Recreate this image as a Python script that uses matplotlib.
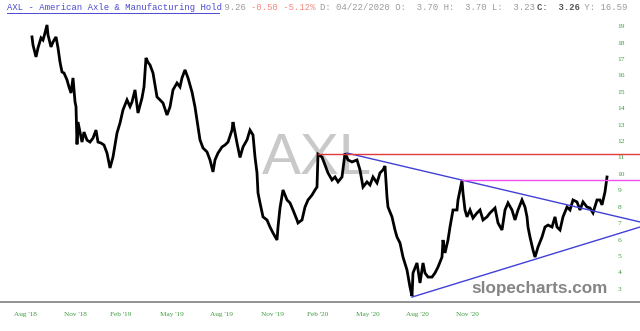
import matplotlib
matplotlib.use("Agg")
import matplotlib.pyplot as plt
from matplotlib.lines import Line2D

# bar number (trading-day index) and price
bars = [7, 8, 11, 13, 16, 18, 20, 22, 23, 26, 28, 31, 33, 35, 37, 39, 42, 44, 46, 48,
        50, 51, 52, 53, 55, 57, 59, 62, 65, 68, 71, 73, 76, 79, 82, 85, 88, 92, 95, 98,
        102, 105, 107, 110, 113, 117, 119, 121, 123, 125, 128, 132, 135, 138, 142, 145, 148, 152, 155, 157,
        160, 163, 167, 170, 173, 175, 178, 182, 185, 188, 190, 193, 197, 200, 203, 207, 208, 212, 215, 218,
        222, 225, 228, 230, 232, 233, 235, 238, 242, 245, 248, 252, 253, 255, 258, 262, 265, 268, 272, 273,
        277, 280, 283, 287, 290, 292, 293, 297, 300, 303, 307, 310, 313, 317, 320, 323, 327, 332, 335, 338,
        342, 345, 348, 352, 355, 358, 360, 362, 363, 367, 370, 372, 375, 378, 382, 385, 387, 388, 392, 395,
        398, 400, 403, 407, 410, 413, 417, 418, 420, 423, 425, 428, 432, 433, 437, 438, 440, 442, 445, 448,
        452, 455, 458, 462, 465, 470, 473, 477, 480, 483, 487, 490, 493, 497, 500, 502, 503, 505, 508, 510,
        513, 517, 520, 523, 527, 530, 532, 535, 538, 542, 545, 548, 552, 555, 558, 562, 565, 568, 572, 575,
        577, 580, 582]
price = [18.35, 17.86, 17.13, 17.68, 18.29, 18.16, 18.59, 19.08, 18.47, 17.74, 18.04, 18.35, 17.68, 16.82, 16.21, 16.15, 15.73, 15.30, 14.93, 15.85,
         14.40, 14.10, 11.80, 13.16, 12.55, 11.94, 12.55, 12.06, 11.94, 12.18, 12.67, 11.94, 11.88, 11.76, 11.27, 10.36, 11.03, 12.49, 13.10, 13.90,
         14.51, 14.10, 14.38, 15.12, 13.71, 14.63, 15.30, 17.07, 16.80, 16.64, 16.15, 14.69, 14.51, 14.32, 13.59, 14.08, 15.12, 15.54, 15.30, 15.85,
         16.34, 15.85, 14.99, 14.08, 12.86, 12.07, 11.58, 11.34, 10.85, 10.12, 10.85, 11.27, 11.64, 11.76, 11.94, 12.67, 13.16, 11.88, 11.00, 11.64,
         12.07, 12.67, 12.37, 11.03, 10.06, 8.84, 8.23, 7.38, 7.19, 6.76, 6.40, 5.97, 6.76, 7.92, 9.02, 8.41, 8.23, 7.80, 7.19, 7.01,
         7.19, 7.98, 8.41, 8.71, 9.02, 9.20, 11.20, 11.03, 10.54, 10.06, 9.63, 9.81, 9.51, 9.81, 11.25, 10.85, 10.73, 10.85, 10.24, 9.20,
         9.51, 9.32, 9.81, 9.45, 10.06, 10.24, 10.48, 8.59, 7.98, 7.38, 6.58, 6.15, 5.79, 4.93, 4.14, 3.10, 2.55, 3.96, 4.57, 3.35,
         4.57, 3.96, 3.71, 3.71, 3.96, 4.32, 4.93, 5.97, 5.18, 5.97, 6.76, 7.80, 7.80, 8.41, 9.60, 8.84, 7.80, 7.38, 7.80, 7.31,
         7.62, 7.80, 7.19, 7.38, 7.62, 7.92, 7.01, 6.58, 7.80, 8.23, 7.80, 7.19, 7.80, 8.41, 7.98, 7.38, 6.76, 6.15, 5.36, 4.93,
         5.54, 6.15, 6.76, 6.88, 6.76, 7.38, 6.76, 6.58, 7.38, 7.98, 7.80, 8.41, 8.29, 7.80, 8.29, 7.98, 7.92, 7.62, 8.41, 8.41,
         8.11, 8.90, 9.81]

# drawn lines: (start bar, start price, end bar, end price)
upper_trend = (322, 11.27, 615, 7.07)
lower_trend = (387, 2.49, 615, 6.76)
resistance = (293, 11.20, 615, 11.20)
breakout = (437, 9.60, 615, 9.60)

xtick_bars = [0, 50, 96, 147, 196, 247, 293, 343, 392, 442]
xtick_labels = ["Aug '18", "Nov '18", "Feb '19", "May '19", "Aug '19",
                "Nov '19", "Feb '20", "May '20", "Aug '20", "Nov '20"]
ytick_vals = list(range(3, 20))

W, H = 640, 331
fig = plt.figure(figsize=(W / 100, H / 100), dpi=100)
fig.patch.set_facecolor("white")
ax = fig.add_axes([0, 29 / H, 1, 302 / H])
ax.set_xlim(-25, 615)
ax.set_ylim(2.19, 20.60)

# watermarks
ax.text(292, 10.9, "AXL", fontsize=42, color="#c9c9c9", family="Liberation Sans",
        ha="center", va="center", zorder=1)
ax.text(515, 3.0, "slopecharts.com", fontsize=12.3, color="#858585", weight="bold",
        family="Liberation Sans", ha="center", va="center", zorder=1)

ax.plot(bars, price, color="black", lw=2.0, solid_joinstyle="miter", zorder=3)

for (x0, y0, x1, y1), c in [(upper_trend, "#4040d8"), (lower_trend, "#4040d8"),
                            (resistance, "#e03a3a"), (breakout, "#f050f0")]:
    ax.plot([x0, x1], [y0, y1], color=c, lw=1.0, zorder=4)

for s in ["top", "left", "right"]:
    ax.spines[s].set_visible(False)
ax.spines["bottom"].set_color("#808080")
ax.spines["bottom"].set_linewidth(1.2)

ax.set_xticks(xtick_bars)
ax.set_xticklabels(xtick_labels, family="Liberation Serif", fontsize=5.2, color="#3c9a3c")
ax.tick_params(axis="x", length=0, pad=7)

ax.yaxis.tick_right()
ax.set_yticks(ytick_vals)
ax.set_yticklabels([str(v) for v in ytick_vals], family="Liberation Serif",
                   fontsize=5.4, color="#3c9a3c")
ax.tick_params(axis="y", length=0, pad=-16)

# header line, monospace, pieces coloured separately
cw = 5.3
x_start = 7
y_head = 1 - 8 / H
pieces = [
    ("AXL - American Axle & Manufacturing Hold", "#4a4ad0", "normal"),
    (" 9.26 ", "#9a9a9a", "normal"),
    ("-0.50 -5.12% ", "#f08a80", "normal"),
    ("D: 04/22/2020 O:  3.70 H:  3.70 L:  3.23 ", "#9a9a9a", "normal"),
    ("C:  3.26", "#555555", "bold"),
    (" Y: 16.59", "#9a9a9a", "normal"),
]
pos = 0
for txt, col, wt in pieces:
    fig.text((x_start + pos * cw) / W, y_head, txt, family="Liberation Mono",
             fontsize=6.36, color=col, weight=wt, ha="left", va="center")
    pos += len(txt)
fig.add_artist(Line2D([x_start / W, (x_start + 40 * cw) / W], [1 - 13 / H, 1 - 13 / H],
                      color="#4a4ad0", lw=0.7))

fig.savefig("out.png", dpi=100)
